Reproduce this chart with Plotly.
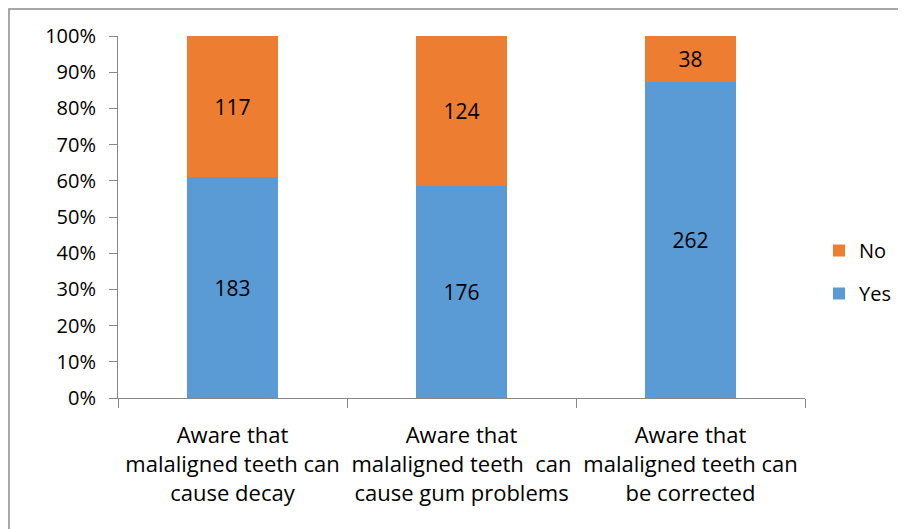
import plotly.graph_objects as go

categories = [
    "Aware that<br>malaligned teeth can<br>cause decay",
    "Aware that<br>malaligned teeth  can<br>cause gum problems",
    "Aware that<br>malaligned teeth can<br>be corrected",
]
yes_values = [183, 176, 262]
no_values = [117, 124, 38]
y_tick_vals = [0, 10, 20, 30, 40, 50, 60, 70, 80, 90, 100]
y_tick_text = [f"{v}%" for v in y_tick_vals]

BLUE = "#5B9BD5"
ORANGE = "#ED7D31"
FONT = "Open Sans"

# page body has an 8px margin, so figure coordinates = screen - 8
OFF = 8
W, H = 906 - OFF, 529 - OFF
L = 118 - OFF
T = 36 - OFF
R = W - (805 - OFF)
B = H - (398 - OFF)
pw, ph = W - L - R, H - T - B

fig = go.Figure()
fig.add_trace(go.Bar(
    name="Yes", x=categories, y=yes_values, marker_color=BLUE,
    text=[str(v) for v in yes_values], textposition="inside",
    insidetextanchor="middle", textfont=dict(size=21, color="black", family=FONT),
    marker_line_width=0, legendgroup="yes", legendrank=2,
))
fig.add_trace(go.Bar(
    name="No", x=categories, y=no_values, marker_color=ORANGE,
    text=[str(v) for v in no_values], textposition="inside",
    insidetextanchor="middle", textfont=dict(size=21, color="black", family=FONT),
    marker_line_width=0, legendgroup="no", legendrank=1,
))

fig.update_layout(
    width=W, height=H,
    barmode="stack", barnorm="percent", bargap=0.6,
    margin=dict(l=L, r=R, t=T, b=B, autoexpand=False),
    paper_bgcolor="white", plot_bgcolor="white",
    font=dict(family=FONT, size=20, color="black"),
    showlegend=True,
    legend=dict(
        traceorder="grouped", x=(819 - OFF - L) / pw, xanchor="left",
        y=(398 - 272) / ph, yanchor="middle", font=dict(size=20, family=FONT),
        itemwidth=30, tracegroupgap=14, bgcolor="rgba(0,0,0,0)",
    ),
    uniformtext=dict(mode=False),
    shapes=[dict(
        type="rect", xref="paper", yref="paper",
        x0=(9 - OFF - L) / pw, x1=(W + 10 - L) / pw,
        y0=-(B + 10) / ph, y1=(398 - 9) / ph,
        line=dict(color="#8C8C8C", width=1.5), fillcolor="rgba(0,0,0,0)",
        layer="below",
    )],
)
fig.update_yaxes(
    range=[0, 100], tickvals=y_tick_vals, ticktext=y_tick_text,
    showgrid=False, zeroline=False, showline=True, linecolor="#888888",
    linewidth=1, ticks="outside", ticklen=8, tickcolor="#888888",
    tickfont=dict(size=20, family=FONT), fixedrange=True,
    ticklabelstandoff=9, automargin=False,
)
fig.update_xaxes(
    showgrid=False, showline=True, linecolor="#888888", linewidth=1,
    ticks="outside", ticklen=9, tickcolor="#888888", tickson="boundaries",
    tickfont=dict(size=22, family=FONT), tickangle=0,
    ticklabelstandoff=18, automargin=False,
)

fig.write_html("out.html")
